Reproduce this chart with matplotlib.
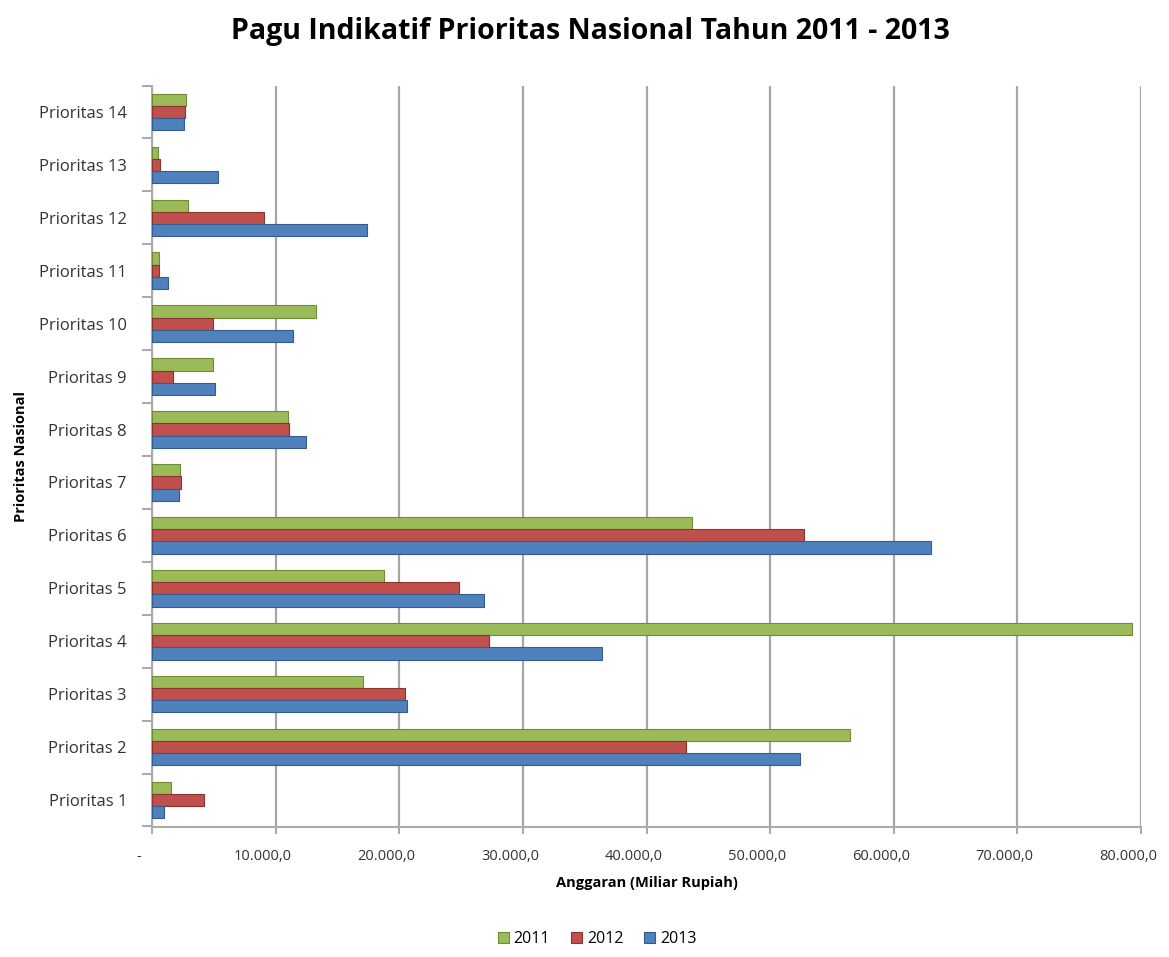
import numpy as np
import matplotlib.pyplot as plt
import matplotlib.transforms as mtransforms
from matplotlib.ticker import FuncFormatter

categories = ['Prioritas %d' % i for i in range(1, 15)]
years = ['2011', '2012', '2013']

# anggaran per prioritas (miliar rupiah)
v2011 = [1500, 56500, 17100, 79300, 18750, 43700, 2270, 10980, 4960, 13250, 570, 2930, 490, 2760]
v2012 = [4200, 43200, 20500, 27250, 24800, 52750, 2330, 11050, 1700, 4960, 600, 9100, 650, 2680]
v2013 = [1000, 52450, 20600, 36400, 26830, 63000, 2190, 12440, 5120, 11380, 1300, 17400, 5370, 2600]

colors = ['#9BBB59', '#C0504D', '#4F81BD']
edges = ['#6E8B3A', '#8C3330', '#345C8E']

plt.rcParams['font.family'] = ['Open Sans', 'DejaVu Sans']

fig = plt.figure(figsize=(11.69, 9.57), dpi=100)
ax = fig.add_axes([152 / 1169, 1 - 826.5 / 957, (1141 - 152) / 1169, (826.5 - 85.5) / 957])

y = np.arange(len(categories))
h = 0.23
series = [v2011, v2012, v2013]
offsets = [h, 0, -h]
for vals, off, c, ec, lab in zip(series, offsets, colors, edges, years):
    ax.barh(y + off, vals, height=h, color=c, edgecolor=ec, linewidth=0.8, label=lab, zorder=3)

ax.set_xlim(0, 80000)
ax.set_ylim(-0.5, 13.5)
ax.set_xticks(np.arange(0, 80001, 10000))
ax.xaxis.set_major_formatter(FuncFormatter(
    lambda v, p: '-' if v == 0 else '{:,.1f}'.format(v).replace(',', 'X').replace('.', ',').replace('X', '.')))
ax.set_yticks(y)
ax.set_yticklabels(categories)
ax.set_yticks(np.arange(-0.5, 14, 1), minor=True)
ax.tick_params(axis='y', which='major', length=0, pad=18, labelsize=12, labelcolor='#333333')
ax.tick_params(axis='y', which='minor', length=7, color='#999999', width=1.2)
ax.tick_params(axis='x', length=5, color='#999999', width=1.2, pad=11, labelsize=10.5, labelcolor='#333333')

# label sumbu x sedikit ke kiri (efek 3D)
shift = mtransforms.ScaledTranslation(-0.13, 0, fig.dpi_scale_trans)
for lbl in ax.get_xticklabels():
    lbl.set_transform(lbl.get_transform() + shift)

ax.grid(axis='x', color='#A6A6A6', linewidth=1.6, zorder=0)
for s in ['top', 'right']:
    ax.spines[s].set_visible(False)
for s in ['left', 'bottom']:
    ax.spines[s].set_color('#AAAAAA')
    ax.spines[s].set_linewidth(1.5)

ax.set_xlabel('Anggaran (Miliar Rupiah)', fontsize=10.5, fontweight='bold', labelpad=9)
ax.set_ylabel('Prioritas Nasional', fontsize=10.5, fontweight='bold', labelpad=8)
fig.text(0.505, 1 - 31 / 957, 'Pagu Indikatif Prioritas Nasional Tahun 2011 - 2013',
         ha='center', va='center', fontsize=20.5, fontweight='bold')

ax.legend(loc='center', bbox_to_anchor=(0.45, -0.152), ncol=3, frameon=False,
          fontsize=11.5, handlelength=0.7, handleheight=0.7, handletextpad=0.3, columnspacing=1.3)

fig.savefig('out.png', dpi=100)
